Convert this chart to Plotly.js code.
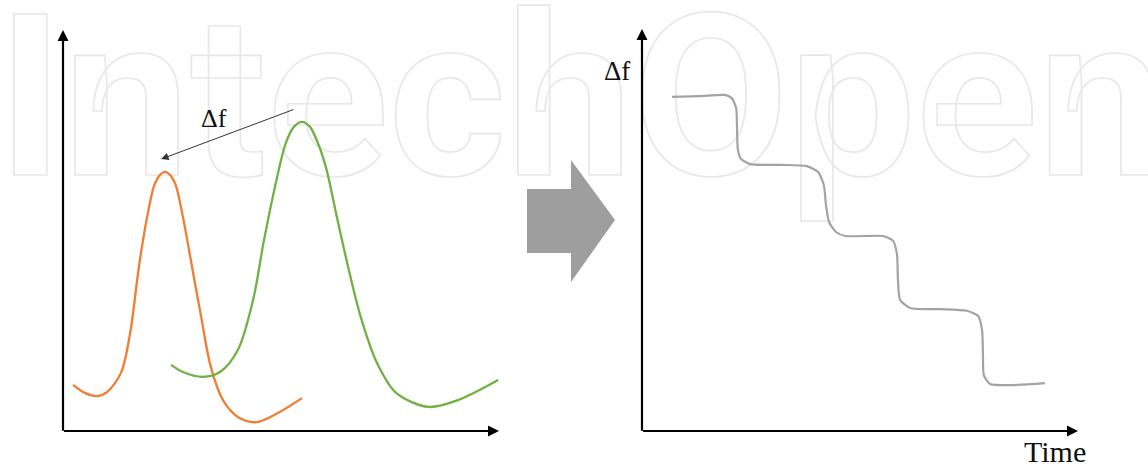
<!DOCTYPE html>
<html>
<head>
<meta charset="utf-8">
<script src="https://cdn.plot.ly/plotly-3.0.1.min.js"></script>
<style>
  html, body { margin: 0; padding: 0; background: #fff; }
  #chart { width: 1148px; height: 469px; }
  .layer-below .shapelayer text { fill: none !important; stroke: #e8e8e8 !important; stroke-width: 1.7px; }
</style>
</head>
<body>
<div id="chart"></div>
<script>
// Left panel: two resonance peaks (arbitrary frequency / amplitude units)
const orangeFreq = [2.3, 5.0, 7.8, 10.1, 13.3, 15.4, 17.4, 19.3, 21.0, 22.3, 23.4, 24.5, 25.8, 27.5, 29.6, 31.7, 33.9, 36.7, 40.1, 44.3, 49.3, 54.8];
const orangeAmp  = [11.5, 9.5, 8.7, 9.7, 14.5, 24.4, 40.9, 53.4, 61.5, 63.9, 64.6, 63.9, 61.5, 53.4, 40.9, 28.4, 16.0, 7.7, 3.5, 2.2, 4.5, 8.2];
const greenFreq  = [24.8, 27.5, 32.1, 36.0, 40.1, 43.6, 46.1, 48.6, 51.1, 53.0, 54.8, 56.6, 58.2, 60.3, 62.8, 65.4, 68.3, 72.0, 76.4, 83.9, 90.6, 99.8];
const greenAmp   = [16.5, 14.7, 13.5, 14.7, 20.2, 32.7, 47.6, 60.8, 71.8, 75.9, 77.1, 75.9, 72.5, 65.8, 53.4, 40.9, 28.4, 17.0, 9.5, 6.0, 7.7, 12.7];

// Right panel: frequency shift vs time (staircase)
const stepTime = [6.9, 13.3, 19.0, 20.6, 21.6, 21.8, 22.0, 22.7, 24.8, 31.7, 37.8, 40.4, 41.7, 42.2, 42.9, 44.5, 46.6, 55.3, 57.6, 58.5, 58.7, 59.2, 61.5, 68.3, 74.5, 77.1, 78.0, 78.2, 78.4, 79.8, 84.4, 92.4];
const stepDf   = [83.1, 83.3, 83.6, 82.8, 80.3, 74.9, 69.9, 67.7, 66.4, 66.2, 65.9, 64.4, 61.2, 56.2, 52.0, 49.5, 48.5, 48.5, 47.3, 43.8, 37.6, 32.6, 30.6, 30.3, 29.9, 28.6, 25.1, 18.9, 13.9, 11.7, 11.4, 11.9];

// Labels
const deltaLabel = 'Δf';
const timeLabel = 'Time';
const watermarkText = 'IntechOpen';

const W = 1148, H = 469;
const px = v => v / W;
const py = v => 1 - v / H;

const traces = [
  { x: orangeFreq, y: orangeAmp, xaxis: 'x', yaxis: 'y', mode: 'lines',
    line: { color: '#F07D32', width: 2.3, shape: 'spline', smoothing: 0.9 } },
  { x: greenFreq, y: greenAmp, xaxis: 'x', yaxis: 'y', mode: 'lines',
    line: { color: '#72B045', width: 2.3, shape: 'spline', smoothing: 0.9 } },
  { x: stepTime, y: stepDf, xaxis: 'x2', yaxis: 'y2', mode: 'lines',
    line: { color: '#A3A3A3', width: 2.2, shape: 'spline', smoothing: 0.6 } }
];

const hiddenAxis = (domain) => ({
  domain: domain, range: [0, 100], showgrid: false, zeroline: false,
  showline: false, showticklabels: false, ticks: '', fixedrange: true
});

const axisArrow = (xr, yr, x, y, ax, ay) => ({
  xref: xr, yref: yr, axref: xr, ayref: yr, x: x, y: y, ax: ax, ay: ay,
  text: '', showarrow: true, arrowhead: 2, arrowsize: 1, arrowwidth: 2.2, arrowcolor: '#000'
});

const layout = {
  width: W, height: H,
  margin: { l: 0, r: 0, t: 0, b: 0, pad: 0 },
  paper_bgcolor: '#fff', plot_bgcolor: 'rgba(0,0,0,0)',
  showlegend: false, hovermode: false,
  xaxis: hiddenAxis([px(63), px(499)]),
  yaxis: hiddenAxis([py(431), py(30)]),
  xaxis2: hiddenAxis([px(642), px(1078)]),
  yaxis2: hiddenAxis([py(431), py(29)]),
  shapes: [
    // watermark carrier (text only), drawn below the traces
    { type: 'rect', xref: 'paper', yref: 'paper', layer: 'below',
      x0: -0.005, x1: 1.2, y0: py(214), y1: 1,
      line: { width: 0 }, fillcolor: 'rgba(0,0,0,0)',
      label: { text: watermarkText, textposition: 'bottom left', padding: 0,
               font: { family: 'Roboto', size: 226, weight: 700, color: '#e8e8e8' } } },
    // grey block arrow between panels
    { type: 'path', xref: 'paper', yref: 'paper', layer: 'above',
      path: `M${px(527)},${py(189)} L${px(571)},${py(189)} L${px(571)},${py(160)} L${px(615)},${py(220)} L${px(571)},${py(282)} L${px(571)},${py(253)} L${px(527)},${py(253)} Z`,
      fillcolor: '#9E9E9E', line: { width: 0 } }
  ],
  annotations: [
    axisArrow('x', 'y', 0, 100, 0, -0.3),
    axisArrow('x', 'y', 100, 0, -0.1, 0),
    axisArrow('x2', 'y2', 0, 100, 0, -0.3),
    axisArrow('x2', 'y2', 100, 0, -0.1, 0),
    // shift arrow from green peak to orange peak
    { xref: 'x', yref: 'y', axref: 'x', ayref: 'y', x: 22.5, y: 67.8, ax: 53.2, ay: 80.3,
      text: '', showarrow: true, arrowhead: 2, arrowsize: 1.5, arrowwidth: 1, arrowcolor: '#333' },
    { xref: 'x', yref: 'y', x: 34.6, y: 78.0, xanchor: 'center', yanchor: 'middle',
      text: deltaLabel, showarrow: false,
      font: { family: 'Liberation Serif', size: 26, color: '#111' } },
    { xref: 'paper', yref: 'paper', x: px(617), y: py(71), xanchor: 'center', yanchor: 'middle',
      text: deltaLabel, showarrow: false,
      font: { family: 'Liberation Serif', size: 27, color: '#111' } },
    { xref: 'paper', yref: 'paper', x: px(1055), y: py(451), xanchor: 'center', yanchor: 'middle',
      text: timeLabel, showarrow: false,
      font: { family: 'Liberation Serif', size: 30, color: '#111' } }
  ]
};

Plotly.newPlot('chart', traces, layout, { staticPlot: true, displayModeBar: false });
</script>
</body>
</html>
